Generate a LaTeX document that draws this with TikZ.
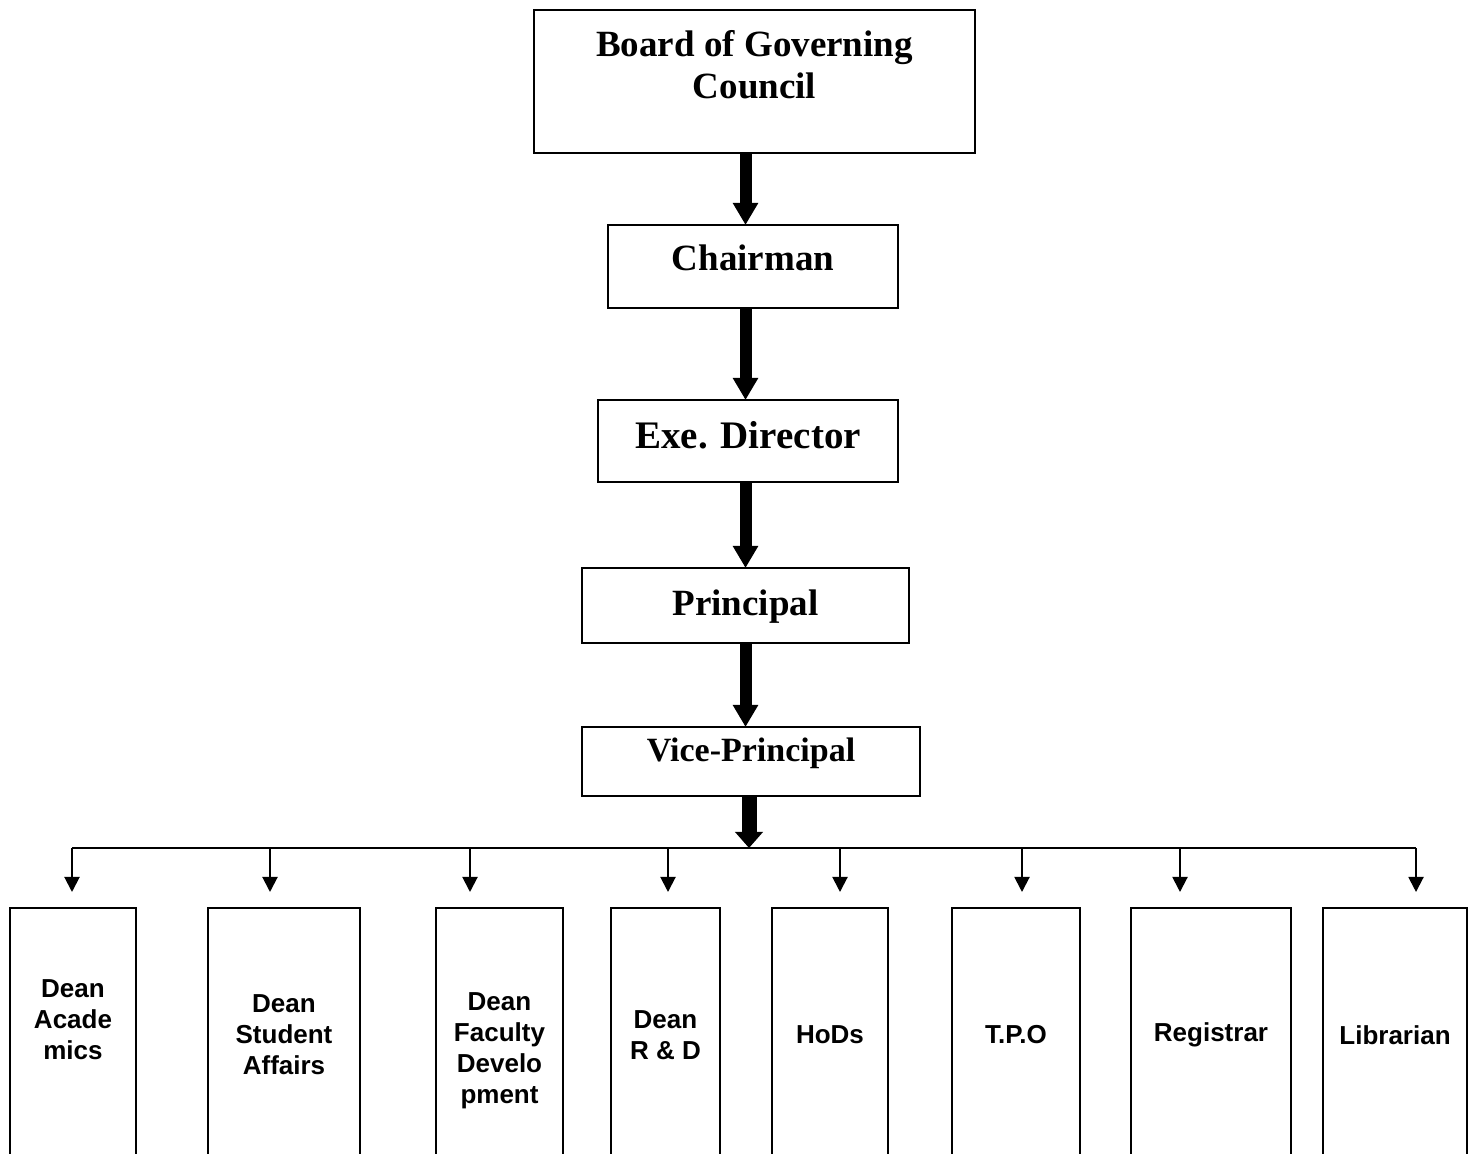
\documentclass[tikz,border=0pt]{standalone}
\usepackage{fontspec}
\setmainfont{Liberation Serif}
\setsansfont{Liberation Sans}
\usetikzlibrary{arrows.meta, positioning}

\begin{document}
\begin{tikzpicture}[outer sep=0pt,
        head/.style = {draw, line width=1pt, font=\bfseries\fontsize{18.5}{21}\selectfont},
        post/.style = {head, text height=12pt, text depth=7.5pt},
        dept/.style = {draw, line width=1pt, anchor=north, minimum height=127pt, align=center,
                       font=\sffamily\bfseries\fontsize{13}{15.5}\selectfont},
        down/.style = {line width=6pt, -{Triangle[length=11pt,width=12pt]}},
        tap/.style = {line width=1pt, -{Triangle[length=7.5pt,width=7.5pt]}, shorten >=8pt}]
            \path[use as bounding box, clip] (0,0) rectangle (738pt,577pt);

            \node[head, minimum width=220.5pt, minimum height=71.5pt, align=center] (board) at (377.25pt,536.25pt) {Board of Governing\\Council\\[-4pt]\mbox{}};
            \node[post, minimum width=145pt, minimum height=41.5pt] (chair) [below=36pt of board, xshift=-0.75pt] {Chairman};
            \node[post, minimum width=150pt, minimum height=41pt, text depth=4.5pt, font=\bfseries\fontsize{19.5}{22}\selectfont] (exe) [below=46pt of chair, xshift=-2.5pt] {Exe. Director};
            \node[post, minimum width=163.5pt, minimum height=37.5pt, text depth=1.5pt] (principal) [below=43pt of exe, xshift=-1.25pt] {Principal};
            \node[post, minimum width=169pt, minimum height=34.5pt, text depth=11.5pt, font=\bfseries\fontsize{17}{20}\selectfont] (vp) [below=42pt of principal, xshift=2.75pt] {Vice-Principal};

            \coordinate (spine) at (372.75pt,0);
            \draw[down] (board.south -| spine) -- (chair.north -| spine);
            \draw[down] (chair.south -| spine) -- (exe.north -| spine);
            \draw[down] (exe.south -| spine) -- (principal.north -| spine);
            \draw[down] (principal.south -| spine) -- (vp.north -| spine);

            \node[dept, minimum width=63pt] (academics) at (36.5pt,123pt) {Dean\\Acade\\mics\\\mbox{}};
            \node[dept, minimum width=76pt] (students) [right=36pt of academics] {Dean\\Student\\Affairs};
            \node[dept, minimum width=63.5pt] (faculty) [right=38pt of students] {\vphantom{D}\\Dean\\Faculty\\Develo\\pment};
            \node[dept, minimum width=54.5pt] (research) [right=24pt of faculty] {Dean\\R \& D};
            \node[dept, minimum width=58pt] (hods) [right=26pt of research] {HoDs};
            \node[dept, minimum width=64pt] (tpo) [right=32pt of hods] {T.P.O};
            \node[dept, minimum width=80pt] (registrar) [right=25.5pt of tpo] {Registrar};
            \node[dept, minimum width=72pt] (librarian) [right=16pt of registrar] {Librarian};

            % distribution bus under the vice-principal
            \coordinate (t1) at (36pt,153pt);
            \coordinate (t2) at (135pt,153pt);
            \coordinate (t3) at (235pt,153pt);
            \coordinate (t4) at (334pt,153pt);
            \coordinate (t5) at (420pt,153pt);
            \coordinate (t6) at (511pt,153pt);
            \coordinate (t7) at (590pt,153pt);
            \coordinate (t8) at (708pt,153pt);
            \draw[line width=1pt] (t1) -- (t8);
            \draw[down, line width=7.5pt, -{Triangle[length=8pt,width=13.5pt]}] ([xshift=-1pt]vp.south) -- ([xshift=-1pt]vp.south |- t1);

            \draw[tap] (t1) -- (t1 |- academics.north);
            \draw[tap] (t2) -- (t2 |- students.north);
            \draw[tap] (t3) -- (t3 |- faculty.north);
            \draw[tap] (t4) -- (t4 |- research.north);
            \draw[tap] (t5) -- (t5 |- hods.north);
            \draw[tap] (t6) -- (t6 |- tpo.north);
            \draw[tap] (t7) -- (t7 |- registrar.north);
            \draw[tap] (t8) -- (t8 |- librarian.north);
        \end{tikzpicture}
\end{document}
